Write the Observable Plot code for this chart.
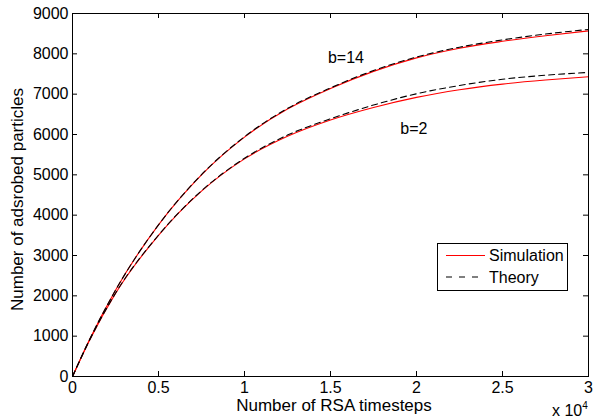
<!DOCTYPE html>
<html>
<head>
<meta charset="utf-8">
<script src="https://cdn.jsdelivr.net/npm/d3@7"></script>
<script src="https://cdn.jsdelivr.net/npm/@observablehq/plot@0.6"></script>
<style>
  html, body { margin: 0; padding: 0; background: #fff; }
  #chart { position: relative; width: 593px; height: 420px; }
</style>
</head>
<body>
<div id="chart"></div>
<script>
// ---- data (x in RSA timesteps, y in adsorbed particles) ----
const timesteps  = [0, 1000, 2500, 5000, 7500, 10000, 12500, 15000, 17500, 20000, 22500, 25000, 27500, 30000];
const simB14     = [0, 925, 2140, 3760, 5000, 5935, 6630, 7140, 7565, 7900, 8140, 8310, 8450, 8570];
const theoryB14  = [0, 925, 2140, 3760, 5005, 5945, 6645, 7155, 7585, 7920, 8165, 8345, 8490, 8605];
const simB2      = [0, 905, 2060, 3500, 4595, 5395, 5955, 6360, 6670, 6920, 7110, 7250, 7350, 7430];
const theoryB2   = [0, 905, 2065, 3505, 4605, 5410, 5985, 6390, 6730, 7010, 7215, 7370, 7470, 7540];

const xTicks = [0, 5000, 10000, 15000, 20000, 25000, 30000];
const yTicks = [0, 1000, 2000, 3000, 4000, 5000, 6000, 7000, 8000, 9000];

const curveLabels = [
  {t: 15900, v: 7910, text: "b=14"},
  {t: 19850, v: 6130, text: "b=2"}
];

function rows(values, series, b) {
  return timesteps.map((t, i) => ({t, v: values[i], series, b}));
}
const simData = [...rows(simB14, "Simulation", 14), ...rows(simB2, "Simulation", 2)];
const theoryData = [...rows(theoryB14, "Theory", 14), ...rows(theoryB2, "Theory", 2)];

const W = 593, H = 420;
const mL = 72, mR = 5, mT = 13, mB = 44;
const plotW = W - mL - mR, plotH = H - mT - mB;
const tickLen = 5;
const font = "Liberation Sans, Arial, Helvetica, sans-serif";

const plot = Plot.plot({
  width: W,
  height: H,
  marginLeft: mL,
  marginRight: mR,
  marginTop: mT,
  marginBottom: mB,
  style: {fontFamily: font, fontSize: "16px", color: "black", background: "white"},
  x: {domain: [0, 30000]},
  y: {domain: [0, 9000]},
  marks: [
    Plot.line(simData, {x: "t", y: "v", z: "b", stroke: "#ff0000", strokeWidth: 1.1, curve: "monotone-x"}),
    Plot.line(theoryData, {x: "t", y: "v", z: "b", stroke: "black", strokeWidth: 1.1, strokeDasharray: "6,4", curve: "monotone-x"}),
    Plot.text(curveLabels, {x: "t", y: "v", text: "text", fill: "black", fontSize: 16}),
    // inward ticks on all four sides
    Plot.tickX(xTicks, {x: d => d, insetTop: plotH - tickLen, stroke: "black"}),
    Plot.tickX(xTicks, {x: d => d, insetBottom: plotH - tickLen, stroke: "black"}),
    Plot.tickY(yTicks, {y: d => d, insetRight: plotW - tickLen, stroke: "black"}),
    Plot.tickY(yTicks, {y: d => d, insetLeft: plotW - tickLen, stroke: "black"}),
    Plot.axisX(xTicks, {
      tickSize: 0, tickPadding: 5,
      tickFormat: d => d / 10000,
      label: null
    }),
    Plot.axisY(yTicks, {
      tickSize: 0, tickPadding: 4,
      tickFormat: d => String(d),
      label: null
    }),
    Plot.frame({stroke: "black", strokeWidth: 1})
  ]
});

document.getElementById("chart").appendChild(plot);

const svg = d3.select(plot);

// ---- axis titles ----
svg.append("text").attr("font-family", font).attr("font-size", "17px")
  .attr("text-anchor", "middle").attr("fill", "black")
  .attr("x", mL + plotW / 2 + 4).attr("y", 411)
  .text("Number of RSA timesteps");
svg.append("text").attr("font-family", font).attr("font-size", "17px")
  .attr("text-anchor", "middle").attr("fill", "black")
  .attr("transform", `translate(23, ${mT + plotH / 2 + 5}) rotate(-90)`)
  .text("Number of adsrobed particles");

// ---- legend ----
const lg = svg.append("g").attr("font-family", font).attr("font-size", "16px").attr("text-anchor", "start");
lg.append("rect").attr("x", 437.5).attr("y", 243.5).attr("width", 130).attr("height", 47)
  .attr("fill", "white").attr("stroke", "black").attr("stroke-width", 1);
const legendItems = [
  {name: "Simulation", stroke: "#ff0000", dash: null},
  {name: "Theory", stroke: "black", dash: "6,7"}
];
legendItems.forEach((it, i) => {
  const y = 255.5 + i * 21.5;
  lg.append("line").attr("x1", 446).attr("x2", 485).attr("y1", y).attr("y2", y)
    .attr("stroke", it.stroke).attr("stroke-width", 1.1)
    .attr("stroke-dasharray", it.dash);
  lg.append("text").attr("x", 489).attr("y", y).attr("dy", "0.36em").attr("fill", "black").text(it.name);
});

// ---- exponent annotation ----
const ex = svg.append("text").attr("font-family", font).attr("font-size", "16px")
  .attr("text-anchor", "start").attr("x", 552).attr("y", 416).attr("fill", "black");
ex.append("tspan").text("x 10");
ex.append("tspan").attr("dy", "-7").attr("font-size", "10px").text("4");
</script>
</body>
</html>
